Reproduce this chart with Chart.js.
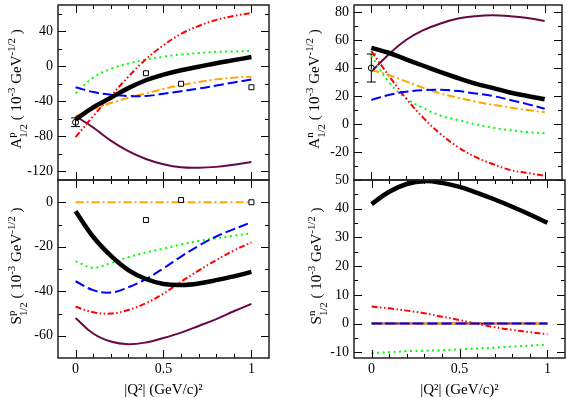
<!DOCTYPE html>
<html>
<head>
<meta charset="utf-8">
<title>Helicity amplitudes</title>
<script src="https://cdn.jsdelivr.net/npm/chart.js@4.4.1/dist/chart.umd.min.js"></script>
<style>
  html, body { margin: 0; padding: 0; background: #fff; }
  #wrap { position: relative; width: 567px; height: 398px; overflow: hidden; }
  #wrap canvas { position: absolute; left: 0; top: 0; }
  .ytitle { position: absolute; white-space: nowrap; font: 15px 'Liberation Serif', serif; color: #000;
            transform: translate(-50%, -50%) rotate(-90deg); }
  .ss { display: inline-block; vertical-align: -0.5em; font-size: 0.72em; line-height: 1.1; text-align: left; }
  .ss span { display: block; }
  .sup { font-size: 0.72em; vertical-align: 0.6em; }
</style>
</head>
<body>
<div id="wrap">
  <canvas id="ap" width="567" height="398"></canvas>
  <canvas id="sp" width="567" height="398"></canvas>
  <canvas id="an" width="567" height="398"></canvas>
  <canvas id="sn" width="567" height="398"></canvas>
  <div class="ytitle" style="left:17px;top:89px">A<span class="ss"><span>p</span><span>1/2</span></span> ( 10<span class="sup">-3</span> GeV<span class="sup">-1/2</span> )</div>
  <div class="ytitle" style="left:17px;top:266px">S<span class="ss"><span>p</span><span>1/2</span></span> ( 10<span class="sup">-3</span> GeV<span class="sup">-1/2</span> )</div>
  <div class="ytitle" style="left:315px;top:89px">A<span class="ss"><span>n</span><span>1/2</span></span> ( 10<span class="sup">-3</span> GeV<span class="sup">-1/2</span> )</div>
  <div class="ytitle" style="left:317px;top:266px">S<span class="ss"><span>n</span><span>1/2</span></span> ( 10<span class="sup">-3</span> GeV<span class="sup">-1/2</span> )</div>
</div>
<script>
// DATOS
const xs = [0, 0.1, 0.2, 0.3, 0.4, 0.5, 0.6, 0.7, 0.8, 0.9, 1.0];
const xMajor = [0, 0.5, 1];
const xMinor = [0.1, 0.2, 0.3, 0.4, 0.6, 0.7, 0.8, 0.9];

// A^p_1/2
const apBlack  = [-61, -47, -36, -25, -16, -9.5, -4.5, -0.5, 3.5, 7, 10.5];
const apMaroon = [-57, -70, -85, -97, -106, -112, -115.5, -116, -115, -112.5, -109.5];
const apRed    = [-81, -57, -34, -12, 8, 24, 37, 46, 53, 57.5, 61];
const apGreen  = [-31, -13, -3, 3, 7.5, 11, 13.5, 15, 16.5, 17, 17.5];
const apBlue   = [-24, -29.5, -32.5, -34, -34, -31.5, -28.5, -25.5, -22, -18.5, -15];
const apOrange = [-57, -49, -42, -36, -31, -26, -21.5, -18, -15, -13, -12];
const apSqX = [0.4, 0.6, 1.0];
const apSqY = [-8, -20, -24];
const apCircX = [0];
const apCircY = [-64];
const apCircErr = [5];

// S^p_1/2
const spBlack  = [-4, -15.5, -24, -30.5, -34.5, -36.7, -37.2, -36.5, -35, -33.3, -31.3];
const spMaroon = [-52, -59, -62.6, -63.8, -63, -61, -58.6, -55.6, -52.5, -49, -45.7];
const spRed    = [-47, -49.4, -50, -48.4, -45.4, -41, -35.7, -30.7, -26, -21.7, -18];
const spGreen  = [-26.5, -29.4, -27.4, -24.7, -22.6, -20.8, -19, -17.4, -16.2, -15, -14];
const spBlue   = [-35.5, -39.5, -40.6, -38.2, -34.5, -29.7, -24.4, -19.6, -15.4, -12.1, -9];
const spOrange = [0, 0, 0, 0, 0, 0, 0, 0, 0, 0, 0];
const spSqX = [0.4, 0.6, 1.0];
const spSqY = [-8, 1, 0];

// A^n_1/2
const anBlack  = [54.4, 50.9, 46.2, 41.6, 37, 32.8, 28.8, 25.8, 22.5, 20, 17.7];
const anMaroon = [37.4, 49.7, 60, 67, 71.8, 75.3, 77, 77.6, 77, 75.7, 73.6];
const anRed    = [52, 34.6, 18.4, 4.4, -7.2, -16.5, -23.5, -28.6, -32.8, -35, -37];
const anGreen  = [49, 30, 18.4, 11.4, 6, 2.8, -0.2, -2.6, -4.4, -5.8, -6.7];
const anBlue   = [17.2, 20.7, 23, 24.2, 24.4, 23.5, 21.8, 20, 17.2, 14.2, 10.9];
const anOrange = [38.6, 35, 30.4, 25.8, 21.8, 18.8, 16, 13.7, 11.8, 10, 8.4];
const anCircX = [0];
const anCircY = [40];
const anCircErr = [10];

// S^n_1/2
const snBlack  = [41.6, 45.9, 48.6, 49.6, 49, 47.6, 45.5, 43.2, 40.7, 38, 35.1];
const snMaroon = [0, 0, 0, 0, 0, 0, 0, 0, 0, 0, 0];
const snRed    = [5.9, 5.3, 4.5, 3.6, 2.4, 1.2, -0.1, -1.3, -2.2, -3, -3.7];
const snGreen  = [-10.3, -10, -9.6, -9.5, -9.3, -9, -8.7, -8.4, -8, -7.7, -7.3];
const snBlue   = [0, 0, 0, 0, 0, 0, 0, 0, 0, 0, 0];
const snOrange = [0, 0, 0, 0, 0, 0, 0, 0, 0, 0, 0];

// ticks de cada panel
const apYMajor = [40, 0, -40, -80, -120];
const apYMinor = [60, 20, -20, -60, -100];
const spYMajor = [0, -20, -40, -60];
const spYMinor = [-10, -30, -50];
const anYMajor = [80, 60, 40, 20, 0, -20];
const anYMinor = [70, 50, 30, 10, -10, -30];
const snYMajor = [50, 40, 30, 20, 10, 0, -10];
const snYMinor = [45, 35, 25, 15, 5, -5];

const W = 567, H = 398;
const serif = "'Liberation Serif', 'Times New Roman', serif";

// marco y ticks hacia adentro
const frameTicks = {
  id: 'frameTicks',
  afterDatasetsDraw(chart, args, o) {
    const { ctx, chartArea: a, scales } = chart;
    const x = scales.x, y = scales.y;
    ctx.save();
    ctx.strokeStyle = '#000';
    ctx.lineWidth = 1;
    ctx.beginPath();
    const xt = (v, len) => {
      const p = Math.round(x.getPixelForValue(v)) + 0.5;
      ctx.moveTo(p, a.bottom); ctx.lineTo(p, a.bottom - len);
      ctx.moveTo(p, a.top); ctx.lineTo(p, a.top + len);
    };
    const yt = (v, len) => {
      const p = Math.round(y.getPixelForValue(v)) + 0.5;
      ctx.moveTo(a.left, p); ctx.lineTo(a.left + len, p);
      ctx.moveTo(a.right, p); ctx.lineTo(a.right - len, p);
    };
    xMajor.forEach(v => xt(v, 8));
    xMinor.forEach(v => xt(v, 4));
    o.yMajor.forEach(v => yt(v, 8));
    o.yMinor.forEach(v => yt(v, 4));
    ctx.stroke();
    ctx.lineWidth = 1.5;
    ctx.strokeStyle = '#222';
    ctx.strokeRect(a.left, a.top, a.right - a.left, a.bottom - a.top);
    ctx.restore();
  }
};

// barras de error (se dibujan antes de los puntos)
const errorBars = {
  id: 'errorBars',
  beforeDatasetsDraw(chart) {
    const { ctx, scales: { x, y } } = chart;
    ctx.save();
    ctx.strokeStyle = '#000';
    ctx.lineWidth = 1;
    chart.data.datasets.forEach(ds => {
      if (!ds.errors) return;
      ds.data.forEach((pt, i) => {
        const px = x.getPixelForValue(pt.x);
        const top = y.getPixelForValue(pt.y + ds.errors[i]);
        const bot = y.getPixelForValue(pt.y - ds.errors[i]);
        ctx.beginPath();
        ctx.moveTo(px, top); ctx.lineTo(px, bot);
        ctx.moveTo(px - 4.5, top); ctx.lineTo(px + 4.5, top);
        ctx.moveTo(px - 4.5, bot); ctx.lineTo(px + 4.5, bot);
        ctx.stroke();
      });
    });
    ctx.restore();
  }
};

const pts = (ax, ay) => ax.map((v, i) => ({ x: v, y: ay[i] }));

function curve(vals, color, width, dash) {
  return {
    data: pts(xs, vals), borderColor: color, borderWidth: width, borderDash: dash,
    pointRadius: 0, fill: false, tension: 0.4
  };
}

function panel(id, box, yMin, yMax, yMajor, yMinor, yLabels, c, marks, showX) {
  const datasets = [];
  marks.forEach(m => datasets.push(m));
  datasets.push(curve(c[0], '#000000', 4.5, []));
  datasets.push(curve(c[4], '#0000ff', 2, [10, 4]));
  datasets.push(curve(c[5], '#ffa500', 2, [8, 3, 2, 3]));
  datasets.push(curve(c[2], '#ff0000', 2, [6, 2.5, 1.5, 2.5, 1.5, 2.5]));
  datasets.push(curve(c[3], '#00ff00', 2, [2, 3.5]));
  datasets.push(curve(c[1], '#670748', 2, []));

  new Chart(document.getElementById(id), {
    type: 'line',
    data: { datasets },
    options: {
      responsive: false,
      animation: false,
      events: [],
      layout: { padding: { left: box.left - 45, right: W - box.right, top: box.top, bottom: H - box.bottom - (showX ? 40 : 0) } },
      plugins: {
        legend: { display: false },
        tooltip: { enabled: false },
        frameTicks: { yMajor, yMinor }
      },
      scales: {
        x: {
          type: 'linear', min: -0.1, max: 1.1,
          grid: { display: false, drawTicks: false },
          border: { display: false },
          ticks: { display: showX, padding: 3, color: '#000', font: { family: serif, size: 14 }, callback: v => String(v) },
          afterBuildTicks: s => { s.ticks = xMajor.map(v => ({ value: v })); },
          afterFit: s => { s.height = showX ? 40 : 0; s.paddingLeft = 0; s.paddingRight = 0; },
          title: { display: showX, text: '|Q²| (GeV/c)²', color: '#000', font: { family: serif, size: 15, lineHeight: 1 }, padding: 0 }
        },
        y: {
          type: 'linear', min: yMin, max: yMax,
          grid: { display: false, drawTicks: false },
          border: { display: false },
          ticks: { padding: 5, color: '#000', font: { family: serif, size: 14 }, callback: v => String(v) },
          afterBuildTicks: s => { s.ticks = yLabels.map(v => ({ value: v })); },
          afterFit: s => { s.width = 45; s.paddingTop = 0; s.paddingBottom = 0; }
        }
      }
    },
    plugins: [errorBars, frameTicks]
  });
}

function squares(ax, ay) {
  return { data: pts(ax, ay), showLine: false, pointStyle: 'rect', pointRadius: 3.5,
           pointBackgroundColor: '#fff', pointBorderColor: '#000', pointBorderWidth: 1, borderColor: '#000' };
}
function circles(ax, ay, err) {
  return { data: pts(ax, ay), errors: err, showLine: false, pointStyle: 'circle', pointRadius: 3,
           pointBackgroundColor: 'rgba(255,255,255,0)', pointBorderColor: '#000', pointBorderWidth: 1, borderColor: '#000' };
}

panel('ap', { left: 58, right: 269, top: 2, bottom: 180 }, -130, 70, apYMajor, apYMinor, apYMajor,
      [apBlack, apMaroon, apRed, apGreen, apBlue, apOrange],
      [squares(apSqX, apSqY), circles(apCircX, apCircY, apCircErr)], false);
panel('sp', { left: 58, right: 269, top: 180, bottom: 358 }, -70, 10, spYMajor, spYMinor, spYMajor,
      [spBlack, spMaroon, spRed, spGreen, spBlue, spOrange],
      [squares(spSqX, spSqY)], true);
panel('an', { left: 354, right: 565, top: 2, bottom: 180 }, -40, 85, anYMajor, anYMinor, anYMajor,
      [anBlack, anMaroon, anRed, anGreen, anBlue, anOrange],
      [circles(anCircX, anCircY, anCircErr)], false);
panel('sn', { left: 354, right: 565, top: 180, bottom: 358 }, -12, 50, snYMajor, snYMinor, snYMajor,
      [snBlack, snMaroon, snRed, snGreen, snBlue, snOrange],
      [], true);
</script>
</body>
</html>
